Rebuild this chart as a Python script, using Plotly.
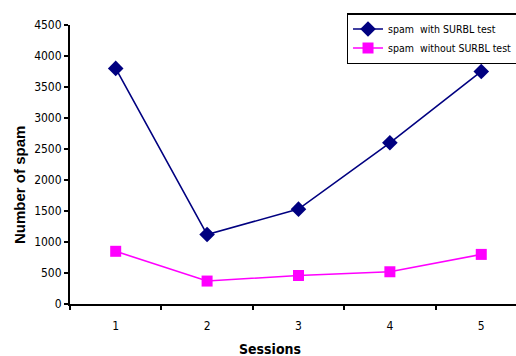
import plotly.graph_objects as go

sessions = ["1", "2", "3", "4", "5"]
with_surbl = [3800, 1120, 1530, 2600, 3750]
without_surbl = [850, 370, 460, 520, 800]
y_ticks = [0, 500, 1000, 1500, 2000, 2500, 3000, 3500, 4000, 4500]

fnt = "Liberation Sans Narrow, Arial Narrow, DejaVu Sans Condensed, Liberation Sans, Arial"

fig = go.Figure()
fig.add_trace(go.Scatter(
    x=sessions, y=with_surbl, mode="lines+markers", name="spam  with SURBL test",
    line=dict(color="#000080", width=1.6),
    marker=dict(symbol="diamond", size=12, color="#000080"),
))
fig.add_trace(go.Scatter(
    x=sessions, y=without_surbl, mode="lines+markers", name="spam  without SURBL test",
    line=dict(color="#FF00FF", width=1.6),
    marker=dict(symbol="square", size=11, color="#FF00FF"),
))

fig.update_layout(
    width=516, height=356,
    margin=dict(l=70, r=0, t=13, b=52, autoexpand=False),
    paper_bgcolor="white", plot_bgcolor="white",
    font=dict(family=fnt, size=11, color="black"),
    showlegend=True,
    legend=dict(
        x=0.62, y=1.0, xanchor="left", yanchor="top",
        bordercolor="black", borderwidth=1.5, bgcolor="white",
        font=dict(family=fnt, size=10.5, color="black"),
        tracegroupgap=0, itemwidth=30,
    ),
    xaxis=dict(
        type="category", range=[-0.5, 4.38],
        showline=True, linecolor="black", linewidth=2,
        ticks="outside", tickson="boundaries", ticklen=4, tickcolor="black", tickwidth=2,
        showgrid=False, zeroline=False, ticklabelstandoff=10,
        tickfont=dict(family=fnt, size=12),
    ),
    yaxis=dict(
        domain=[0, 0.9588],
        range=[0, 4500], tickvals=y_ticks,
        showline=True, linecolor="black", linewidth=2,
        ticks="outside", ticklen=4, tickcolor="black", tickwidth=2,
        showgrid=False, zeroline=False,
        tickfont=dict(family=fnt, size=12),
    ),
    annotations=[
        dict(text="<b>Number of spam</b>", textangle=-90, xref="paper", yref="paper",
             x=-0.112, y=0.409, xanchor="center", yanchor="middle", showarrow=False,
             font=dict(family="Liberation Sans, Arial", size=15)),
        dict(text="<b>Sessions</b>", xref="paper", yref="paper",
             x=0.448, y=-0.155, xanchor="center", yanchor="middle", showarrow=False,
             font=dict(family=fnt, size=14)),
    ],
)

fig.write_html("out.html", config={"displayModeBar": False},
               post_script="document.body.style.margin='0';document.body.style.overflow='hidden';")
